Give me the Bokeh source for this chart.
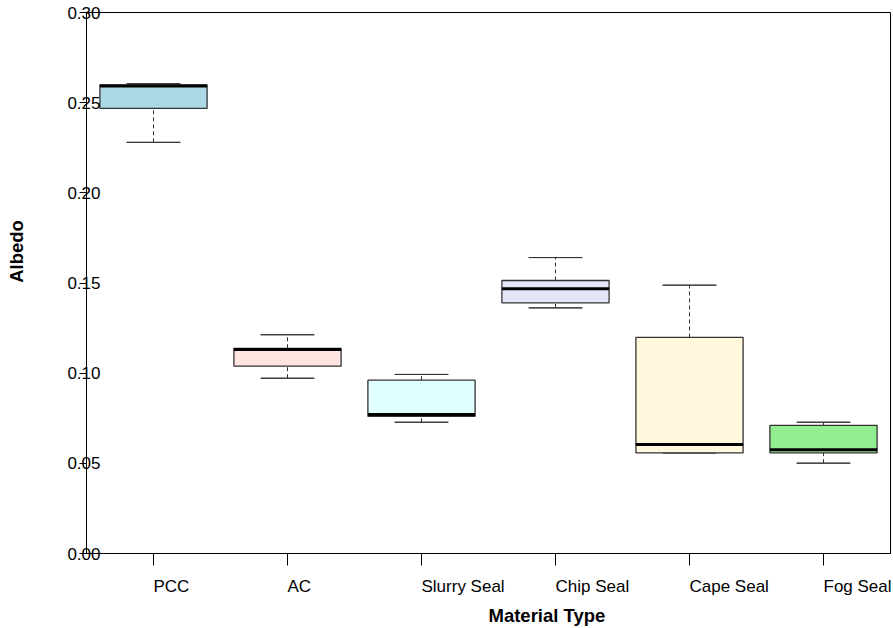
from bokeh.plotting import figure
from bokeh.models import Range1d, FixedTicker, PrintfTickFormatter, Title, Label
from bokeh.embed import file_html
from bokeh.resources import INLINE

categories = ["PCC", "AC", "Slurry Seal", "Chip Seal", "Cape Seal", "Fog Seal"]
lower = [0.228, 0.0972, 0.0728, 0.1362, 0.0558, 0.0501]
q1 = [0.2468, 0.1039, 0.0761, 0.1390, 0.0558, 0.0558]
median = [0.2592, 0.1131, 0.0771, 0.1468, 0.0604, 0.0576]
q3 = [0.2599, 0.1138, 0.0961, 0.1514, 0.1198, 0.0710]
upper = [0.2605, 0.1213, 0.0993, 0.1641, 0.1488, 0.0728]
fills = ["#ADD8E6", "#FFE4E1", "#E0FFFF", "#E6E6FA", "#FFF8DC", "#90EE90"]
y_ticks = [0.0, 0.05, 0.10, 0.15, 0.20, 0.25, 0.30]

FONT = "Liberation Sans"

p = figure(x_range=categories, y_range=Range1d(0, 0.30), width=893, height=628,
           output_backend="svg", toolbar_location=None,
           min_border_left=86, min_border_right=3, min_border_top=12, min_border_bottom=75)
p.x_range.range_padding = 0
p.grid.visible = False
p.outline_line_color = "black"
p.outline_line_width = 1
p.background_fill_color = "white"
p.border_fill_color = "white"

# whiskers
p.segment(x0=categories, y0=q3, x1=categories, y1=upper, line_color="#333333",
          line_width=1, line_dash="4 3")
p.segment(x0=categories, y0=lower, x1=categories, y1=q1, line_color="#333333",
          line_width=1, line_dash="4 3")
# caps
p.vbar(x=categories, top=upper, bottom=upper, width=0.4, fill_alpha=0,
       line_color="#333333", line_width=1)
p.vbar(x=categories, top=lower, bottom=lower, width=0.4, fill_alpha=0,
       line_color="#333333", line_width=1)
# boxes
p.vbar(x=categories, top=q3, bottom=q1, width=0.8, fill_color=fills,
       line_color="#333333", line_width=1.3)
# medians
p.vbar(x=categories, top=median, bottom=median, width=0.8, fill_alpha=0,
       line_color="black", line_width=3)

ax = p.yaxis[0]
ax.ticker = FixedTicker(ticks=y_ticks)
ax.formatter = PrintfTickFormatter(format="%.2f")
ax.major_tick_out = 7
ax.major_tick_in = 0
ax.minor_tick_line_color = None
ax.major_label_standoff = -21
ax.major_label_text_font = FONT
ax.major_label_text_font_size = "17px"
ax.major_label_text_color = "black"
ax.axis_line_color = "black"

bx = p.xaxis[0]
bx.major_tick_out = 12
bx.major_tick_in = 0
bx.major_label_standoff = 21
bx.major_label_orientation = -0.000001
bx.major_label_text_font = FONT
bx.major_label_text_font_size = "17px"
bx.major_label_text_color = "black"
bx.axis_line_color = "black"

p.add_layout(Title(text="Material Type", align="left", offset=402, standoff=-12,
                   text_font=FONT, text_font_size="18.5px", text_font_style="bold",
                   text_color="black"), "below")
p.add_layout(Label(x=-27, y=302, x_units="screen", y_units="screen", text="Albedo",
                   angle=1.5708, text_font=FONT, text_font_size="18.5px",
                   text_font_style="bold", text_align="center", text_baseline="middle",
                   text_color="black"), "left")

open("out.html", "w").write(file_html(p, INLINE))
